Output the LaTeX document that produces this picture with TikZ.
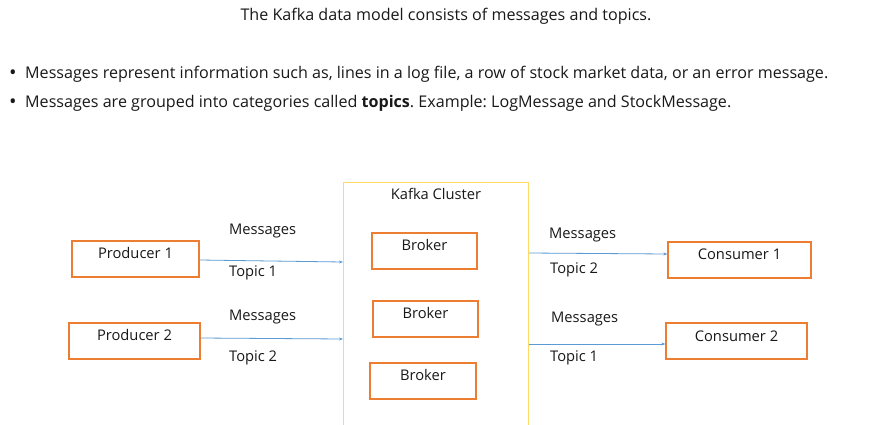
\documentclass[tikz,border=0pt]{standalone}
\usepackage{fontspec}
\setmainfont{Open Sans}
\usetikzlibrary{arrows.meta}
\definecolor{boxorange}{HTML}{ED7D31}
\definecolor{clusteryellow}{HTML}{FFD966}
\definecolor{arrowblue}{HTML}{5B9BD5}
\frenchspacing
\begin{document}
\begin{tikzpicture}[x=1pt,y=-1pt,
  txt/.style={font=\fontsize{14.7}{17}\selectfont, inner sep=0pt, text=black!90},
  big/.style={font=\fontsize{16.1}{19}\selectfont},
  box/.style={draw=boxorange, line width=1.3pt, inner sep=0pt},
  arr/.style={draw=arrowblue, line width=0.8pt, -{Stealth[length=4pt,width=3pt]}}]
\useasboundingbox (0,0) rectangle (889,424);
\fill[white] (0,0) rectangle (889,424);
% header
\node[txt, big] (title) at (446,16) {The Kafka data model consists of messages and topics.};
\node[txt, big, font=\fontsize{20}{20}\selectfont] (b1) at (13,75) {•};
\node[txt, big, anchor=west] (l1) at (25,74) {Messages represent information such as, lines in a log file, a row of stock market data, or an error message.};
\node[txt, big, font=\fontsize{20}{20}\selectfont] (b2) at (13,104) {•};
\node[txt, big, anchor=west] (l2) at (25,103) {Messages are grouped into categories called \textbf{topics}. Example: LogMessage and StockMessage.};
% cluster
\node[draw=clusteryellow, line width=1pt, minimum width=185, minimum height=260, anchor=north west, inner sep=0pt] (cluster) at (343,182) {};
\node[txt] (ctitle) at (436,194) {Kafka Cluster};
% brokers
\node[box, minimum width=105, minimum height=36] (br1) at (424.5,251) {};
\node[txt] (br1t) at (424.5,245) {Broker};
\node[box, minimum width=105, minimum height=36] (br2) at (425.5,319) {};
\node[txt] (br2t) at (425.5,313) {Broker};
\node[box, minimum width=106, minimum height=36] (br3) at (423,381) {};
\node[txt] (br3t) at (423,375) {Broker};
% producers
\node[box, minimum width=127, minimum height=36] (p1) at (135.5,259) {};
\node[txt] (p1t) at (135.5,253) {Producer 1};
\node[box, minimum width=131, minimum height=36] (p2) at (134.5,341) {};
\node[txt] (p2t) at (134.5,335) {Producer 2};
% consumers
\node[box, minimum width=143, minimum height=36] (c1) at (739.5,260) {};
\node[txt] (c1t) at (739.5,254) {Consumer 1};
\node[box, minimum width=141, minimum height=36] (c2) at (736.5,341) {};
\node[txt] (c2t) at (736.5,336) {Consumer 2};
% connector endpoints
\coordinate (a1s) at (200,260);
\coordinate (a1e) at (343,262);
\coordinate (a2s) at (201,338);
\coordinate (a2e) at (344,339);
\coordinate (a3s) at (528,253);
\coordinate (a3e) at (668,254);
\coordinate (a4s) at (529,344);
\coordinate (a4e) at (666,344);
\draw[arr] (p1.east |- a1s) -- (cluster.west |- a1e);
\draw[arr] (p2.east |- a2s) -- (cluster.west |- a2e);
\draw[arr] (cluster.east |- a3s) -- (c1.west |- a3e);
\draw[arr] (cluster.east |- a4s) -- (c2.west |- a4e);
% labels
\node[txt, anchor=west] (m1) at (229,231) {Messages};
\node[txt, anchor=west] (t1) at (229,273) {Topic 1};
\node[txt, anchor=west] (m2) at (229,317) {Messages};
\node[txt, anchor=west] (t2) at (229,358) {Topic 2};
\node[txt, anchor=west] (m3) at (549,235) {Messages};
\node[txt, anchor=west] (t3) at (550,270) {Topic 2};
\node[txt, anchor=west] (m4) at (551,319) {Messages};
\node[txt, anchor=west] (t4) at (550,358) {Topic 1};
\end{tikzpicture}
\end{document}
